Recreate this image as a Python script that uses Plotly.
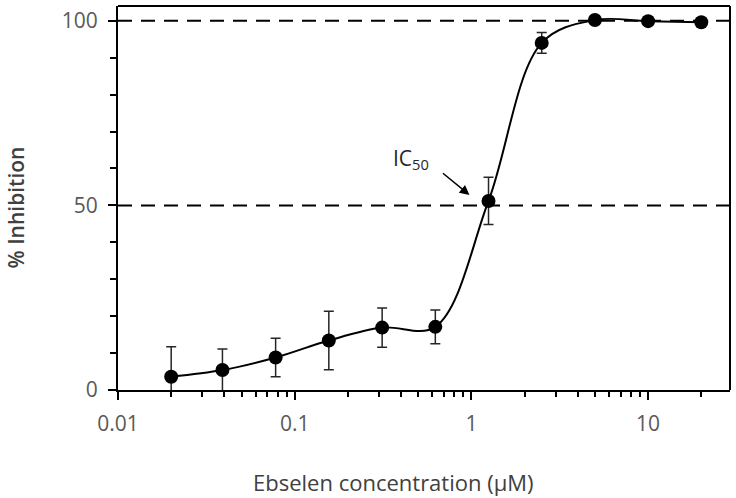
import plotly.graph_objects as go

# concentration (uM), mean % inhibition and error
conc = [0.02, 0.039, 0.078, 0.156, 0.3125, 0.625, 1.25, 2.5, 5, 10, 20]
inhibition = [3.6, 5.4, 8.8, 13.4, 16.9, 17.1, 51.2, 94.0, 100.2, 99.9, 99.6]
err = [8.1, 5.7, 5.2, 7.9, 5.3, 4.6, 6.4, 2.8, 0.5, 0.5, 0.5]

xtick_vals = [0.01, 0.1, 1, 10]
xtick_text = ["0.01", "0.1", "1", "10"]
ytick_vals = [0, 50, 100]
ref_lines = [50, 100]

label_font = dict(family="Open Sans", size=21, color="#595959")
title_font = dict(family="Open Sans", size=22, color="#404040")

fig = go.Figure()
fig.add_trace(go.Scatter(
    x=conc, y=inhibition,
    mode="lines+markers",
    line=dict(color="black", width=2, shape="spline", smoothing=1.0),
    marker=dict(color="black", size=14),
    error_y=dict(type="data", array=err, visible=True,
                 color="#262626", thickness=1.5, width=5),
    cliponaxis=True,
))

for v in ref_lines:
    fig.add_shape(type="line", xref="paper", x0=0, x1=1, y0=v, y1=v,
                  line=dict(color="black", width=2, dash="14px,9px"), layer="below")

# top and right frame lines
fig.add_shape(type="line", xref="paper", yref="paper", x0=0, x1=1, y0=1, y1=1,
              line=dict(color="black", width=2))
fig.add_shape(type="line", xref="paper", yref="paper", x0=1, x1=1, y0=0, y1=1,
              line=dict(color="black", width=2))

# IC50 label and arrow
fig.add_annotation(x=-0.011, y=52.8, ax=-28, ay=-23, text="", showarrow=True,
                   arrowhead=2, arrowsize=1.3, arrowwidth=1.5, arrowcolor="black")
fig.add_annotation(x=-0.34, y=62.5, text="IC<sub>50</sub>", showarrow=False,
                   font=dict(family="Open Sans", size=21, color="#262626"))

# axis titles
fig.add_annotation(xref="paper", yref="paper", x=0.45, y=-0.24, xanchor="center",
                   yanchor="middle", text="Ebselen concentration (µM)", showarrow=False,
                   font=title_font)
fig.add_annotation(xref="paper", yref="paper", x=-0.167, y=0.475, textangle=-90,
                   xanchor="center", yanchor="middle", text="% Inhibition", showarrow=False,
                   font=dict(family="Open Sans", size=21, color="#404040", weight=600))

fig.update_layout(
    width=736, height=498,
    margin=dict(l=118, r=6, t=6, b=108, autoexpand=False),
    plot_bgcolor="white", paper_bgcolor="white",
    showlegend=False,
    xaxis=dict(type="log", range=[-2, 1.4635], tickvals=xtick_vals, ticktext=xtick_text,
               ticks="outside", ticklen=8, tickwidth=2, tickcolor="black",
               showline=True, linecolor="black", linewidth=2, automargin=False,
               showgrid=False, zeroline=False, tickfont=label_font, ticklabelstandoff=6,
               minor=dict(ticks="outside", ticklen=5, tickwidth=2, tickcolor="black",
                          dtick="D1", showgrid=False)),
    yaxis=dict(range=[0, 104.0], tickvals=ytick_vals,
               ticks="outside", ticklen=8, tickwidth=2, tickcolor="black",
               showline=True, linecolor="black", linewidth=2, automargin=False,
               showgrid=False, zeroline=False, tickfont=label_font, ticklabelstandoff=6,
               minor=dict(ticks="outside", ticklen=6, tickwidth=2, tickcolor="black",
                          dtick=10, showgrid=False)),
)

fig.write_html("out.html", config={"displayModeBar": False},
               post_script="document.body.style.margin='0px';")
